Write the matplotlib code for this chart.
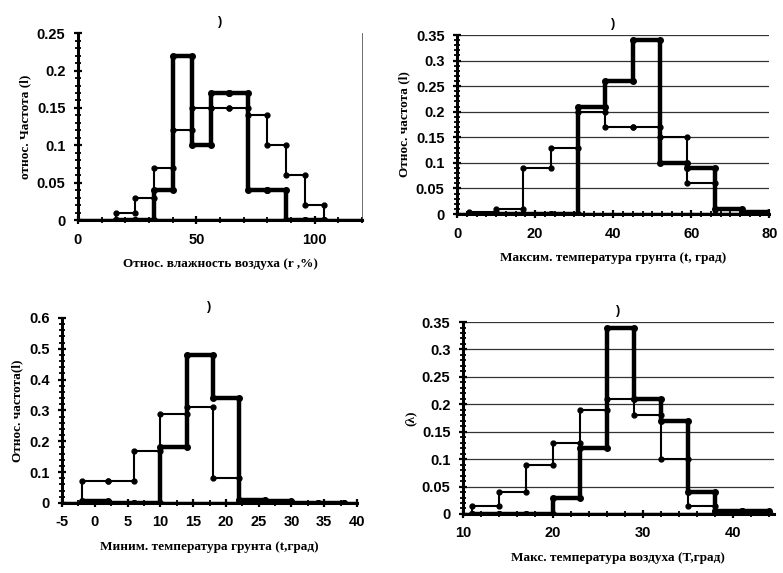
# Four step histograms of relative frequency (two samples each), scanned-report look.
import matplotlib
matplotlib.use('Agg')
import matplotlib.pyplot as plt
from matplotlib.ticker import MultipleLocator, FuncFormatter
import numpy as np

plt.rcParams['font.family'] = ['Liberation Sans', 'DejaVu Sans']
plt.rcParams['axes.unicode_minus'] = False

# ---- panel 1: relative air humidity
hum_edges = [16, 24, 32, 40, 48, 56, 64, 72, 80, 88, 96, 104]
hum_thin = [0.01, 0.03, 0.07, 0.12, 0.15, 0.15, 0.15, 0.14, 0.10, 0.06, 0.02]
hum_thick = [0.0, 0.0, 0.04, 0.22, 0.10, 0.17, 0.17, 0.04, 0.04, 0.0, 0.0]

# ---- panel 2: max soil temperature
smax_edges = [3, 10, 17, 24, 31, 38, 45, 52, 59, 66, 73, 80]
smax_thin = [0.003, 0.01, 0.09, 0.13, 0.20, 0.17, 0.17, 0.15, 0.06, 0.0, 0.0]
smax_thick = [0.0, 0.0, 0.0, 0.0, 0.21, 0.26, 0.34, 0.10, 0.09, 0.01, 0.004]

# ---- panel 3: min soil temperature
smin_edges = [-2, 2, 6, 10, 14, 18, 22, 26, 30, 34, 38]
smin_thin = [0.07, 0.07, 0.17, 0.29, 0.31, 0.08, 0.01, 0.0, 0.0, 0.0]
smin_thick = [0.005, 0.0, 0.0, 0.18, 0.48, 0.34, 0.01, 0.005, 0.0, 0.0]

# ---- panel 4: max air temperature
tair_edges = [11, 14, 17, 20, 23, 26, 29, 32, 35, 38, 41, 44]
tair_thin = [0.015, 0.04, 0.09, 0.13, 0.19, 0.21, 0.18, 0.10, 0.015, 0.005, 0.0]
tair_thick = [0.0, 0.0, 0.0, 0.03, 0.12, 0.34, 0.21, 0.17, 0.04, 0.005, 0.005]

LABEL_FONT = dict(family=['Liberation Serif', 'DejaVu Serif'], fontweight='bold', fontsize=9.5)
GENERAL = FuncFormatter(lambda v, pos: '{:g}'.format(round(v, 6)))


def step_points(edges, vals):
    '''Corner points of a closed step outline, as Excel draws it with markers.'''
    xs = [edges[0]]
    ys = [0.0]
    for i, v in enumerate(vals):
        xs += [edges[i], edges[i + 1]]
        ys += [v, v]
    xs.append(edges[-1])
    ys.append(0.0)
    return xs, ys


def draw_panel(ax, edges, thin, thick, xlim, ylim, xmaj, xmin_, ymaj, ymin_,
               xlabel, ylabel, grid=False, right_spine=False):
    x, y = step_points(edges, thin)
    ax.plot(x, y, color='black', lw=1.5, marker='o', ms=3.5, zorder=3)
    x, y = step_points(edges, thick)
    ax.plot(x, y, color='black', lw=3.2, marker='o', ms=4, zorder=4)
    ax.plot(xlim, [0, 0], color='black', lw=2.5, zorder=2)

    ax.set_xlim(*xlim)
    ax.set_ylim(ylim[0], ylim[1])
    ax.xaxis.set_major_locator(MultipleLocator(xmaj))
    ax.xaxis.set_minor_locator(MultipleLocator(xmin_))
    ax.yaxis.set_major_locator(MultipleLocator(ymaj))
    ax.yaxis.set_minor_locator(MultipleLocator(ymin_))
    ax.xaxis.set_major_formatter(GENERAL)
    ax.yaxis.set_major_formatter(GENERAL)
    ax.tick_params(which='major', direction='inout', length=6, width=1.6,
                   labelsize=10.5, pad=6)
    ax.tick_params(which='minor', direction='inout', length=4, width=1.3)
    for lbl in ax.get_xticklabels() + ax.get_yticklabels():
        lbl.set_fontweight('bold')

    ax.spines['top'].set_visible(False)
    ax.spines['right'].set_visible(right_spine)
    ax.spines['right'].set_linewidth(0.6)
    ax.spines['right'].set_color('#555555')
    ax.spines['left'].set_linewidth(2.2)
    ax.spines['bottom'].set_linewidth(2.2)
    if grid:
        ax.yaxis.grid(True, color='#333333', lw=0.9)
        ax.set_axisbelow(True)

    ax.set_xlabel(xlabel, labelpad=8, **LABEL_FONT)
    ax.set_ylabel(ylabel, labelpad=4, **LABEL_FONT)
    ax.set_title(')', fontsize=9, fontweight='bold', pad=6)


fig = plt.figure(figsize=(7.83, 5.73), dpi=100)
fig.patch.set_facecolor('white')

ax1 = fig.add_axes([0.0996, 0.616, 0.3627, 0.326])
draw_panel(ax1, hum_edges, hum_thin, hum_thick, (0, 120), (0, 0.25),
           50, 10, 0.05, 0.01,
           'Относ. влажность воздуха (r ,%)', 'относ. Частота (l)',
           right_spine=True)

ax2 = fig.add_axes([0.5837, 0.6265, 0.3990, 0.3124])
draw_panel(ax2, smax_edges, smax_thin, smax_thick, (0, 80), (0, 0.35),
           20, 2.5, 0.05, 0.01,
           'Максим. температура грунта (t, град)', 'Относ. частота (l)',
           grid=True)

ax3 = fig.add_axes([0.0792, 0.1222, 0.3768, 0.3229])
draw_panel(ax3, smin_edges, smin_thin, smin_thick, (-5, 40), (0, 0.6),
           5, 2.5, 0.1, 0.02,
           'Миним. температура грунта (t,град)', 'Относ. частота(l)')

ax4 = fig.add_axes([0.5913, 0.103, 0.3966, 0.335])
draw_panel(ax4, tair_edges, tair_thin, tair_thick, (10, 44.5), (0, 0.35),
           10, 2, 0.05, 0.01,
           'Макс. температура воздуха (T,град)', '(λ)',
           grid=True)

fig.savefig('out.png', dpi=100, facecolor='white')
